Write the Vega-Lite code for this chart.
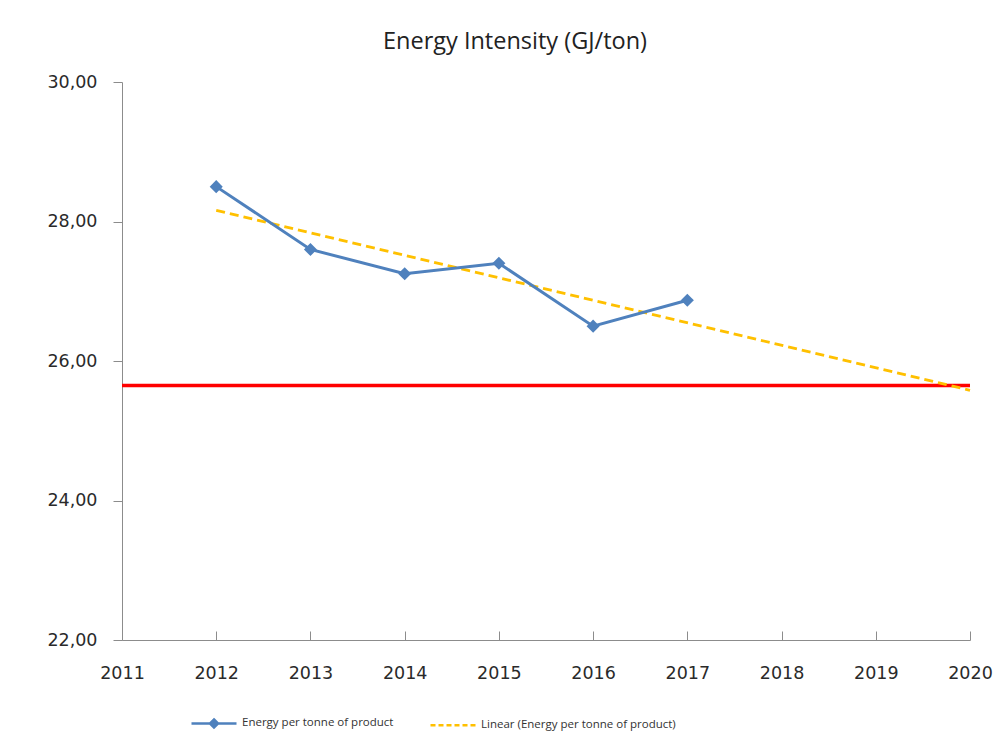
{
  "$schema": "https://vega.github.io/schema/vega-lite/v6.json",
  "autosize": "none",
  "width": 848,
  "height": 558,
  "padding": {"left": 122, "top": 82, "right": 36, "bottom": 111},
  "background": "white",
  "config": {
    "view": {"stroke": null},
    "font": "DejaVu Sans",
    "axis": {"grid": false, "domainColor": "#8c8c8c", "tickColor": "#8c8c8c", "labelColor": "#2a2a2a", "labelFont": "DejaVu Sans", "labelFontSize": 17.5, "labelFontWeight": "normal", "labelFlush": false, "labelOverlap": false}
  },
  "title": {"text": "Energy Intensity (GJ/ton)", "font": "Open Sans", "fontSize": 23.5, "fontWeight": "normal", "color": "#222222", "offset": 20, "dx": -31},
  "datasets": {
    "main": [
      {"year": 2012, "value": 28.5, "series": "Energy per tonne of product"},
      {"year": 2013, "value": 27.6, "series": "Energy per tonne of product"},
      {"year": 2014, "value": 27.25, "series": "Energy per tonne of product"},
      {"year": 2015, "value": 27.4, "series": "Energy per tonne of product"},
      {"year": 2016, "value": 26.5, "series": "Energy per tonne of product"},
      {"year": 2017, "value": 26.87, "series": "Energy per tonne of product"}
    ],
    "trend": [
      {"year": 2012, "value": 28.16, "series": "Linear (Energy per tonne of product)"},
      {"year": 2020, "value": 25.58, "series": "Linear (Energy per tonne of product)"}
    ],
    "target": [{"target": 25.65}]
  },
  "layer": [
    {
      "data": {"name": "target"},
      "mark": {"type": "rule", "color": "#ff0000", "strokeWidth": 3.5},
      "encoding": {
        "y": {"field": "target", "type": "quantitative", "scale": {"domain": [22, 30], "nice": false, "zero": false}}
      }
    },
    {
      "data": {"name": "trend"},
      "mark": {"type": "line", "strokeWidth": 2.8, "strokeDash": [9, 5]},
      "encoding": {
        "x": {"field": "year", "type": "quantitative", "scale": {"domain": [2011, 2020], "nice": false, "zero": false},
          "axis": {"values": [2011, 2012, 2013, 2014, 2015, 2016, 2017, 2018, 2019, 2020], "format": "d", "tickSize": -9, "labelPadding": 33, "title": null}},
        "y": {"field": "value", "type": "quantitative", "scale": {"domain": [22, 30], "nice": false, "zero": false},
          "axis": {"values": [22, 24, 26, 28, 30], "labelExpr": "replace(format(datum.value, '.2f'), '.', ',')", "tickSize": 9, "labelPadding": 16, "title": null}},
        "color": {"field": "series", "type": "nominal",
          "scale": {"domain": ["Energy per tonne of product", "Linear (Energy per tonne of product)"], "range": ["#4f81bd", "#ffc000"]},
          "legend": {
            "title": null, "orient": "none", "legendX": 68, "legendY": 617, "direction": "horizontal",
            "symbolSize": 2025, "symbolStrokeWidth": 2.5, "labelFontSize": 11.5, "labelFont": "Open Sans", "labelColor": "#333333",
            "labelOffset": 4, "columnPadding": 31, "labelLimit": 400,
            "encode": {
              "symbols": {"update": {
                "shape": {"signal": "datum.value === 'Energy per tonne of product' ? 'M-1,0H1M0,-0.18L0.18,0L0,0.18L-0.18,0Z' : 'M-1,0H1'"},
                "fill": {"value": "#4f81bd"},
                "strokeDash": {"signal": "datum.value === 'Energy per tonne of product' ? [] : [5, 3]"}
              }}
            }
          }}
      }
    },
    {
      "data": {"name": "main"},
      "mark": {"type": "line", "strokeWidth": 3},
      "encoding": {
        "x": {"field": "year", "type": "quantitative"},
        "y": {"field": "value", "type": "quantitative"},
        "color": {"field": "series", "type": "nominal"}
      }
    },
    {
      "data": {"name": "main"},
      "mark": {"type": "point", "shape": "diamond", "filled": true, "size": 170, "color": "#4f81bd", "opacity": 1},
      "encoding": {
        "x": {"field": "year", "type": "quantitative"},
        "y": {"field": "value", "type": "quantitative"}
      }
    }
  ]
}
